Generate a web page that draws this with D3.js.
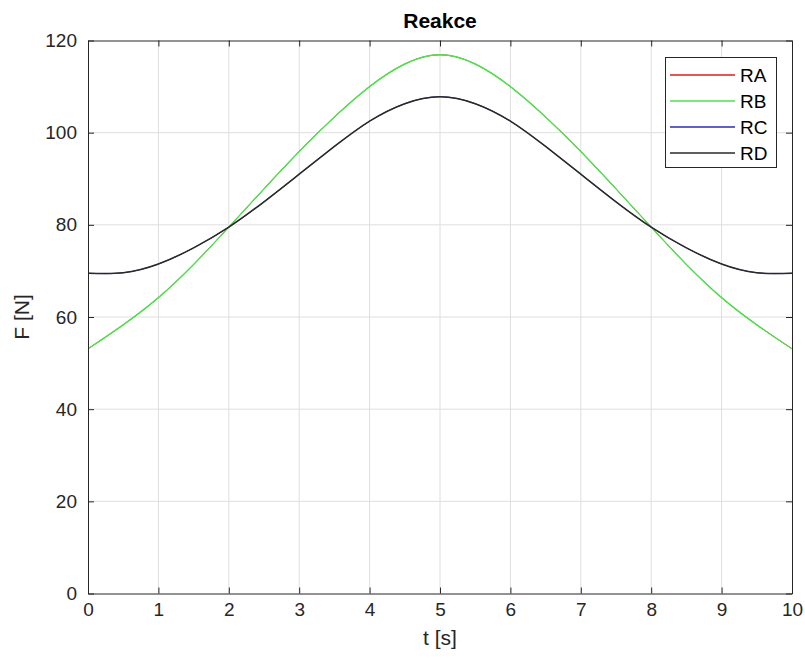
<!DOCTYPE html>
<html>
<head>
<meta charset="utf-8">
<script src="https://cdn.jsdelivr.net/npm/d3@7"></script>
<style>
  body { margin: 0; background: #fff; }
  svg { font-family: "Liberation Sans", Arial, sans-serif; }
</style>
</head>
<body>
<div id="chart"></div>
<script>
// === Data ===
const times = [0, 0.5, 1, 1.5, 2, 2.5, 3, 3.5, 4, 4.5, 5, 5.5, 6, 6.5, 7, 7.5, 8, 8.5, 9, 9.5, 10];
const raValues = [53.1, 58.3, 64.2, 71.4, 79.5, 87.8, 95.9, 103.4, 110.0, 114.9, 116.9, 114.9, 110.0, 103.4, 95.9, 87.8, 79.5, 71.4, 64.2, 58.3, 53.1];
const rbValues = [53.1, 58.3, 64.2, 71.4, 79.5, 87.8, 95.9, 103.4, 110.0, 114.9, 116.9, 114.9, 110.0, 103.4, 95.9, 87.8, 79.5, 71.4, 64.2, 58.3, 53.1];
const rcValues = [69.5, 69.6, 71.5, 75.0, 79.5, 85.0, 91.0, 97.0, 102.5, 106.3, 107.8, 106.3, 102.5, 97.0, 91.0, 85.0, 79.5, 75.0, 71.5, 69.6, 69.5];
const rdValues = [69.5, 69.6, 71.5, 75.0, 79.5, 85.0, 91.0, 97.0, 102.5, 106.3, 107.8, 106.3, 102.5, 97.0, 91.0, 85.0, 79.5, 75.0, 71.5, 69.6, 69.5];
const seriesNames = ["RA", "RB", "RC", "RD"];
const seriesColors = ["#d81e1e", "#4ee04e", "#2b2bb5", "#2a2a2a"];
const seriesWidths = [1.0, 1.4, 1.0, 1.6];
const xTicks = [0, 1, 2, 3, 4, 5, 6, 7, 8, 9, 10];
const yTicks = [0, 20, 40, 60, 80, 100, 120];

const series = [raValues, rbValues, rcValues, rdValues].map((vals, i) => ({
    name: seriesNames[i],
    color: seriesColors[i],
    width: seriesWidths[i],
    points: times.map((t, j) => ({t: t, v: vals[j]}))
}));

// === Layout ===
const width = 805, height = 662;
const plot = {left: 88, right: 792, top: 40.5, bottom: 593.5};
const axisColor = "#262626";

const svg = d3.select("#chart").append("svg")
    .attr("width", width).attr("height", height);

const x = d3.scaleLinear().domain([0, 10]).range([plot.left, plot.right]);
const y = d3.scaleLinear().domain([0, 120]).range([plot.bottom, plot.top]);

// grid
svg.append("g").selectAll("line").data(xTicks.slice(1, -1)).join("line")
    .attr("x1", d => x(d)).attr("x2", d => x(d))
    .attr("y1", plot.top).attr("y2", plot.bottom)
    .attr("stroke", "#dedede").attr("stroke-width", 1);
svg.append("g").selectAll("line").data(yTicks.slice(1, -1)).join("line")
    .attr("x1", plot.left).attr("x2", plot.right)
    .attr("y1", d => y(d)).attr("y2", d => y(d))
    .attr("stroke", "#dedede").attr("stroke-width", 1);

// lines
const line = d3.line()
    .x(d => x(d.t))
    .y(d => y(d.v))
    .curve(d3.curveNatural);

svg.append("clipPath").attr("id", "clip").append("rect")
    .attr("x", plot.left).attr("y", plot.top)
    .attr("width", plot.right - plot.left).attr("height", plot.bottom - plot.top);

svg.append("g").attr("clip-path", "url(#clip)")
    .selectAll("path").data(series).join("path")
    .attr("d", d => line(d.points))
    .attr("fill", "none")
    .attr("stroke", d => d.color)
    .attr("stroke-width", d => d.width);

// axes box with inward ticks on all sides
const axB = d3.axisBottom(x).tickValues(xTicks).tickSizeInner(-6).tickSizeOuter(0).tickPadding(9);
const axT = d3.axisTop(x).tickValues(xTicks).tickSizeInner(-6).tickSizeOuter(0).tickFormat("");
const axL = d3.axisLeft(y).tickValues(yTicks).tickSizeInner(-6).tickSizeOuter(0).tickPadding(11);
const axR = d3.axisRight(y).tickValues(yTicks).tickSizeInner(-6).tickSizeOuter(0).tickFormat("");

function styleAxis(g) {
    g.selectAll("path, line").attr("stroke", axisColor).attr("stroke-width", 1);
    g.selectAll("text").attr("fill", axisColor).style("font-size", "19px")
        .style("font-family", "'Liberation Sans', Arial, sans-serif");
}

svg.append("g").attr("transform", `translate(0,${plot.bottom})`).call(axB).call(styleAxis);
svg.append("g").attr("transform", `translate(0,${plot.top})`).call(axT).call(styleAxis);
svg.append("g").attr("transform", `translate(${plot.left},0)`).call(axL).call(styleAxis);
svg.append("g").attr("transform", `translate(${plot.right},0)`).call(axR).call(styleAxis);

// titles
svg.append("text")
    .attr("x", (plot.left + plot.right) / 2).attr("y", 28)
    .attr("text-anchor", "middle")
    .style("font-size", "21px").style("font-weight", "bold")
    .attr("fill", "#000")
    .text("Reakce");

svg.append("text")
    .attr("x", (plot.left + plot.right) / 2).attr("y", 645)
    .attr("text-anchor", "middle")
    .style("font-size", "21px").attr("fill", axisColor)
    .text("t [s]");

svg.append("text")
    .attr("transform", `translate(29,${(plot.top + plot.bottom) / 2}) rotate(-90)`)
    .attr("text-anchor", "middle")
    .style("font-size", "21px").attr("fill", axisColor)
    .text("F [N]");

// legend
const legend = svg.append("g");
legend.append("rect")
    .attr("x", 665.5).attr("y", 57.5).attr("width", 111).attr("height", 110)
    .attr("fill", "#fff").attr("stroke", axisColor).attr("stroke-width", 1);

const entries = legend.selectAll("g.entry").data(series).join("g")
    .attr("class", "entry")
    .attr("transform", (d, i) => `translate(0,${75 + i * 26})`);
entries.append("line")
    .attr("x1", 670).attr("x2", 735).attr("y1", 0).attr("y2", 0)
    .attr("stroke", d => d.color).attr("stroke-width", 1.3);
entries.append("text")
    .attr("x", 740).attr("y", 7)
    .style("font-size", "19px").attr("fill", "#000")
    .text(d => d.name);
</script>
</body>
</html>
